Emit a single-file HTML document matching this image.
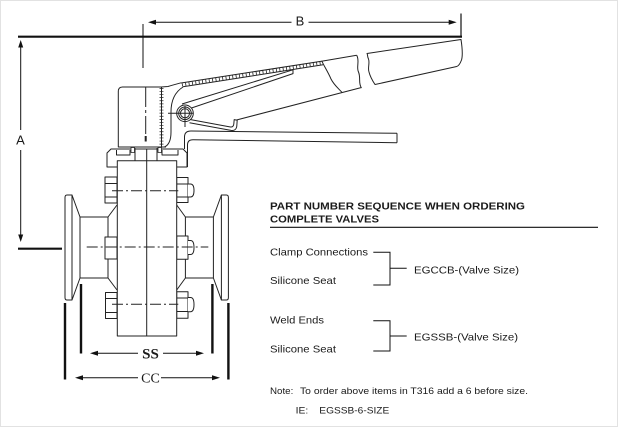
<!DOCTYPE html>
<html><head><meta charset="utf-8"><style>
html,body{margin:0;padding:0;background:#fff;}
svg{display:block;}
text{font-family:"Liberation Sans",Arial,sans-serif;fill:#1a1a1a;}
</style></head><body>
<svg width="618" height="427" viewBox="0 0 618 427" xmlns="http://www.w3.org/2000/svg">
<rect x="0.5" y="0.5" width="617" height="426" fill="#fff" stroke="#e2e2e2" stroke-width="1"/>

<!-- Dimension lines -->
<g stroke="#111" fill="none">
  <line x1="18" y1="36.7" x2="462" y2="36.7" stroke-width="2.2"/>
  <line x1="18" y1="248.7" x2="62" y2="248.7" stroke-width="2.2"/>
  <line x1="20.7" y1="46" x2="20.7" y2="130" stroke-width="1"/>
  <line x1="20.7" y1="150" x2="20.7" y2="236" stroke-width="1"/>
  <line x1="154" y1="22.3" x2="291.5" y2="22.3" stroke-width="1"/>
  <line x1="308.5" y1="22.3" x2="451" y2="22.3" stroke-width="1"/>
  <line x1="461" y1="13.5" x2="461" y2="36" stroke-width="1.2"/>
  <line x1="143" y1="24" x2="143" y2="68" stroke-width="1"/>
  <!-- SS / CC -->
  <line x1="65" y1="303" x2="65" y2="379.5" stroke-width="2.4"/>
  <line x1="81" y1="284" x2="81" y2="353.5" stroke-width="2.4"/>
  <line x1="212.4" y1="284" x2="212.4" y2="353.5" stroke-width="2.4"/>
  <line x1="228.4" y1="303" x2="228.4" y2="379.5" stroke-width="2.4"/>
  <line x1="96" y1="353.3" x2="138" y2="353.3" stroke-width="1"/>
  <line x1="163" y1="353.3" x2="198" y2="353.3" stroke-width="1"/>
  <line x1="81" y1="377.7" x2="138" y2="377.7" stroke-width="1"/>
  <line x1="161" y1="377.7" x2="214" y2="377.7" stroke-width="1"/>
</g>
<g fill="#111">
  <polygon points="20.7,40 18.2,47.5 23.2,47.5"/>
  <polygon points="20.7,242 18.2,234.5 23.2,234.5"/>
  <polygon points="148,22.3 156,19.8 156,24.8"/>
  <polygon points="456.7,22.3 448.7,19.8 448.7,24.8"/>
  <polygon points="90,353.3 98,350.8 98,355.8"/>
  <polygon points="204,353.3 196,350.8 196,355.8"/>
  <polygon points="75,377.7 83,375.2 83,380.2"/>
  <polygon points="220,377.7 212,375.2 212,380.2"/>
</g>
<text x="20.5" y="144.5" font-size="13" text-anchor="middle">A</text>
<text x="300" y="25.5" font-size="13" text-anchor="middle">B</text>
<text x="150.5" y="358.5" font-size="15" font-weight="bold" text-anchor="middle" style='font-family:"Liberation Serif","Times New Roman",serif'>SS</text>
<text x="150.5" y="382.5" font-size="14" text-anchor="middle" style='font-family:"Liberation Serif","Times New Roman",serif'>CC</text>

<!-- Valve drawing -->
<g stroke="#222" stroke-width="1" fill="none" stroke-linejoin="round">
  <!-- Flanges and necks -->
  <path d="M72,195 L67,195 Q65,195 65,197.5 L65,297.5 Q65,300 67,300 L72,300 Z" fill="#fff"/>
  <path d="M72,195 L80,217 L80,278 L72,300"/>
  <path d="M80,217 L108,217 L117,205 M80,278 L108,278 L117,290 M108,217 L108,278"/>
  <path d="M221.4,195 L226.4,195 Q228.4,195 228.4,197.5 L228.4,297.5 Q228.4,300 226.4,300 L221.4,300 Z" fill="#fff"/>
  <path d="M221.4,195 L213.4,217 L213.4,278 L221.4,300"/>
  <path d="M213.4,217 L185.4,217 L176.7,205 M213.4,278 L185.4,278 L176.7,290 M185.4,217 L185.4,278"/>

  <!-- Left bolts -->
  <rect x="105" y="177" width="12" height="26" fill="#fff"/>
  <path d="M105,183.5 L117,183.5 M105,197 L117,197"/>
  <rect x="105" y="237" width="12" height="22" fill="#fff"/>
  <rect x="105.5" y="292.5" width="11.5" height="26" fill="#fff"/>
  <path d="M105.5,298.5 L117,298.5 M105.5,312.5 L117,312.5"/>
  <!-- Right bolts -->
  <rect x="176.7" y="177.5" width="11.3" height="25" fill="#fff"/>
  <path d="M176.7,184 L188,184 M176.7,197 L188,197"/>
  <path d="M188,184 L190.5,184 Q194,184 194,190.5 Q194,197 190.5,197 L188,197" fill="#fff"/>
  <rect x="176.7" y="236" width="11.3" height="23.3" fill="#fff"/>
  <path d="M188,240.5 L190.5,240.5 Q194,240.5 194,247.5 Q194,254.5 190.5,254.5 L188,254.5" fill="#fff"/>
  <rect x="176.7" y="291.7" width="11.3" height="26.6" fill="#fff"/>
  <path d="M176.7,298 L188,298 M176.7,311.5 L188,311.5"/>
  <path d="M188,297.5 L190.5,297.5 Q194,297.5 194,304.5 Q194,311.7 190.5,311.7 L188,311.7" fill="#fff"/>

  <!-- Top cap -->
  <path d="M117,167 L107,167 L107,153 L111,149 L183,149 L187,153 L187,167 L176.7,167" fill="#fff"/>
  <path d="M116.5,150 L116.5,155 L130,155 L130,150"/>
  <path d="M162,150 L162,155 L178,155 L178,150"/>
  <rect x="131" y="147.5" width="3.5" height="5" fill="#fff" stroke-width="0.8"/>
  <rect x="158" y="147.5" width="3.5" height="5" fill="#fff" stroke-width="0.8"/>
  <path d="M135,148 L135,161 M157,148 L157,161"/>

  <!-- Body -->
  <rect x="117.3" y="160.7" width="59.4" height="175.3" fill="#fff"/>
  <line x1="146.7" y1="149" x2="146.7" y2="336"/>

  <!-- Bolt center lines -->
  <g stroke-dasharray="11 3 2 3">
    <line x1="112" y1="190.7" x2="178.3" y2="190.7"/>
    <line x1="86.7" y1="247" x2="208.3" y2="247"/>
    <line x1="112" y1="304.3" x2="178.3" y2="304.3"/>
  </g>

  <!-- Actuator housing -->
  <path d="M161,87 L122.5,87 Q118.3,87 118.3,91.5 L118.3,147 L166,147" fill="#fff"/>
  <line x1="161.5" y1="87" x2="161.5" y2="147"/>
  <line x1="161.5" y1="88" x2="161.5" y2="146" stroke-width="4" stroke-dasharray="0.7 2.4"/>
  <line x1="145.7" y1="87" x2="145.7" y2="134" stroke-dasharray="20 3 3 3"/>
  <line x1="145.7" y1="136" x2="145.7" y2="141.5" stroke-width="2"/>

  <!-- Hub -->
  <path d="M161,87 L168,86.5 Q173,85 181,82.8"/>
  <path d="M183,87 C175,92 171,100 171,112 L171,132 C171,140 169,145 164.5,147"/>

  <!-- Handle band (hatched) -->
  <line x1="181" y1="83" x2="323" y2="61"/>
  <line x1="183" y1="86.8" x2="323" y2="64.8"/>
  <line x1="182" y1="84.9" x2="322" y2="62.9" stroke-width="3.2" stroke-dasharray="0.8 2.6"/>
  <line x1="323" y1="61" x2="356.7" y2="55.3"/>
  <!-- blade -->
  <path d="M182,104 L293,69.8 L293,73.6 L190,108.5"/>
  <!-- handle bottom -->
  <line x1="236.5" y1="120" x2="361.5" y2="87.5"/>
  <!-- grip cut -->
  <path d="M321.7,60.8 C324,66 328,72 331,79 C334,85 338,88 342,92.4"/>
  <!-- break line left -->
  <path d="M356.7,55.3 C360,61 356,67 358.5,72 C361,78 358,83 361.5,88"/>
  <!-- right piece -->
  <path d="M367,53.5 L461,39.5 C462,46 463,55 461.5,60 C460,64 458.5,66 456.7,66.5 L375,84.5 C372,80 370,76 369,72 C367.5,68 370,63 368.5,59 C367,56 368,55 367,53.5 Z" fill="#fff"/>

  <!-- Pivot -->
  <circle cx="185" cy="113.3" r="8.3" fill="#fff"/>
  <circle cx="185" cy="113.3" r="6.3"/>
  <circle cx="185" cy="113.3" r="4.5"/>
  <line x1="168" y1="113.3" x2="193" y2="113.3"/>
  <line x1="185" y1="106" x2="185" y2="127"/>

  <!-- Wire spring -->
  <path d="M190,119.5 L230.5,127 Q233.5,127.3 233.8,124 L234.2,119.6 L237.2,120.2 L236.8,126 Q236.3,131 231,130.4 L189.5,122.8"/>

  <!-- Lower lever -->
  <path d="M397,133.3 L191,131 Q184.5,131 184.5,137 L184.5,149"/>
  <path d="M397,142.7 L193,139.8 Q187.5,139.8 187.5,145 L187.5,167"/>
  <line x1="397" y1="133.3" x2="397" y2="142.7"/>
</g>

<!-- Ordering text -->
<text x="270" y="209.3" font-size="10.5" font-weight="bold" textLength="255" lengthAdjust="spacingAndGlyphs">PART NUMBER SEQUENCE WHEN ORDERING</text>
<text x="270" y="222.3" font-size="10.5" font-weight="bold" textLength="109" lengthAdjust="spacingAndGlyphs">COMPLETE VALVES</text>
<line x1="270" y1="227.3" x2="598" y2="227.3" stroke="#111" stroke-width="1.2"/>

<text x="270" y="255.7" font-size="10.5" textLength="98" lengthAdjust="spacingAndGlyphs">Clamp Connections</text>
<text x="270" y="284" font-size="10.5" textLength="66" lengthAdjust="spacingAndGlyphs">Silicone Seat</text>
<text x="414" y="273.3" font-size="10.5" textLength="105" lengthAdjust="spacingAndGlyphs">EGCCB-(Valve Size)</text>
<path d="M373.3,252.3 L390,252.3 L390,285 L373.3,285 M390,268.3 L406.7,268.3" stroke="#111" stroke-width="1" fill="none"/>

<text x="270" y="323.3" font-size="10.5" textLength="54" lengthAdjust="spacingAndGlyphs">Weld Ends</text>
<text x="270" y="352.7" font-size="10.5" textLength="66" lengthAdjust="spacingAndGlyphs">Silicone Seat</text>
<text x="414" y="340.7" font-size="10.5" textLength="104" lengthAdjust="spacingAndGlyphs">EGSSB-(Valve Size)</text>
<path d="M373.3,320.7 L390,320.7 L390,351 L373.3,351 M390,336 L406.7,336" stroke="#111" stroke-width="1" fill="none"/>

<text x="270" y="394" font-size="9.5" textLength="23.3" lengthAdjust="spacingAndGlyphs">Note:</text>
<text x="300" y="394" font-size="9.5" textLength="228" lengthAdjust="spacingAndGlyphs">To order above items in T316 add a 6 before size.</text>
<text x="295.7" y="413.3" font-size="9.5" textLength="12.6" lengthAdjust="spacingAndGlyphs">IE:</text>
<text x="319.3" y="413.3" font-size="9.5" textLength="70" lengthAdjust="spacingAndGlyphs">EGSSB-6-SIZE</text>
</svg>
</body></html>
